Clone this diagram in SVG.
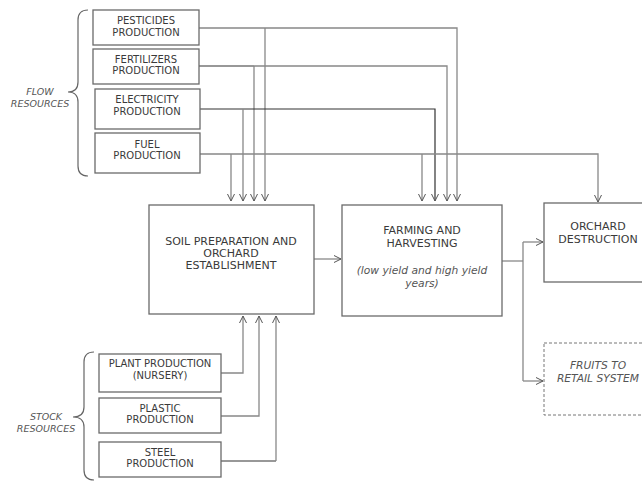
<svg xmlns="http://www.w3.org/2000/svg" width="642" height="481" viewBox="0 0 642 481">
<defs>
<marker id="arr" markerUnits="userSpaceOnUse" markerWidth="10" markerHeight="10" refX="7" refY="4" orient="auto">
<path d="M0,0.5 L7,4 L0,7.5" fill="none" stroke="#555" stroke-width="1"/>
</marker>
<style>
.box{fill:#fff;stroke:#6a6a6a;stroke-width:1.3}
.dash{fill:#fff;stroke:#777;stroke-width:1;stroke-dasharray:3,2}
.t{font-family:"DejaVu Sans",Verdana,sans-serif;font-size:10px;fill:#3a3a3a;text-anchor:middle}
.tb{font-family:"DejaVu Sans",Verdana,sans-serif;font-size:11px;fill:#3a3a3a;text-anchor:middle}
.ti{font-family:"DejaVu Sans",Verdana,sans-serif;font-size:10.7px;fill:#555;text-anchor:middle;font-style:italic}
.tl{font-family:"DejaVu Sans",Verdana,sans-serif;font-size:9.5px;fill:#555;text-anchor:middle;font-style:italic}
.c{fill:none;stroke:#888;stroke-width:1.3}
.cd{fill:none;stroke:#333;stroke-width:1.2}
.br{fill:none;stroke:#666;stroke-width:1.2}
</style>
</defs>
<rect width="642" height="481" fill="#fff"/>

<g id="connectors">
<path class="c" d="M199,28 H457 V201" marker-end="url(#arr)"/>
<path class="c" d="M265,28 V201" marker-end="url(#arr)"/>
<path class="cd" d="M199,66 H254"/>
<path class="c" d="M254,66 H447 V201" marker-end="url(#arr)"/>
<path class="c" d="M254,66 V201" marker-end="url(#arr)"/>
<path class="cd" d="M200,109 H435 V201" marker-end="url(#arr)"/>
<path class="c" d="M243,109 V201" marker-end="url(#arr)"/>
<path class="c" d="M200,154 H598 V202" marker-end="url(#arr)"/>
<path class="c" d="M231,154 V201" marker-end="url(#arr)"/>
<path class="c" d="M422,154 V201" marker-end="url(#arr)"/>
<path class="c" d="M314,259 H341" marker-end="url(#arr)"/>
<path class="c" d="M502,261 H523"/>
<path class="c" d="M523,242 V381"/>
<path class="c" d="M523,242 H543" marker-end="url(#arr)"/>
<path class="c" d="M523,381 H543" marker-end="url(#arr)"/>
<path class="c" d="M221,373 H243 V316" marker-end="url(#arr)"/>
<path class="c" d="M221,416 H259 V316" marker-end="url(#arr)"/>
<path class="cd" d="M221,461 H276"/>
<path class="c" d="M276,461 V316" marker-end="url(#arr)"/>
</g>

<g id="flow-resources">
<path class="br" d="M88,10 Q78,10 78,20 V82 Q78,92 68,92 Q78,92 78,102 V166 Q78,176 88,176"/>
<text class="tl" x="40" y="95">FLOW</text>
<text class="tl" x="40" y="106.5">RESOURCES</text>
</g>

<g id="pesticides">
<rect class="box" x="93" y="10" width="106" height="35"/>
<text class="t" x="146" y="23.5">PESTICIDES</text>
<text class="t" x="146" y="35.5">PRODUCTION</text>
</g>
<g id="fertilizers">
<rect class="box" x="93" y="49" width="106" height="35"/>
<text class="t" x="146" y="62.5">FERTILIZERS</text>
<text class="t" x="146" y="74">PRODUCTION</text>
</g>
<g id="electricity">
<rect class="box" x="95" y="89" width="105" height="40"/>
<text class="t" x="147" y="102.5">ELECTRICITY</text>
<text class="t" x="147" y="114.5">PRODUCTION</text>
</g>
<g id="fuel">
<rect class="box" x="95" y="133" width="105" height="40"/>
<text class="t" x="147" y="147.5">FUEL</text>
<text class="t" x="147" y="158.5">PRODUCTION</text>
</g>

<g id="soil">
<rect class="box" x="149" y="205" width="165" height="109"/>
<text class="tb" x="231" y="245">SOIL PREPARATION AND</text>
<text class="tb" x="231" y="257">ORCHARD</text>
<text class="tb" x="231" y="269">ESTABLISHMENT</text>
</g>

<g id="farming">
<rect class="box" x="342" y="205" width="160" height="111"/>
<text class="tb" x="422" y="234">FARMING AND</text>
<text class="tb" x="422" y="247">HARVESTING</text>
<text class="ti" x="422" y="274">(low yield and high yield</text>
<text class="ti" x="422" y="287">years)</text>
</g>

<g id="orchard-destruction">
<rect class="box" x="544" y="203" width="110" height="79"/>
<text class="tb" x="598" y="230">ORCHARD</text>
<text class="tb" x="598" y="243">DESTRUCTION</text>
</g>

<g id="fruits">
<rect class="dash" x="544" y="343" width="110" height="72"/>
<text class="ti" x="598" y="369">FRUITS TO</text>
<text class="ti" x="598" y="382">RETAIL SYSTEM</text>
</g>

<g id="stock-resources">
<path class="br" d="M94,352 Q84,352 84,362 V407 Q84,417 73,417 Q84,417 84,427 V470 Q84,480 94,480"/>
<text class="tl" x="46" y="420">STOCK</text>
<text class="tl" x="46" y="432">RESOURCES</text>
</g>

<g id="plant">
<rect class="box" x="99" y="354" width="122" height="38"/>
<text class="t" x="160" y="366.5">PLANT PRODUCTION</text>
<text class="t" x="160" y="378.5">(NURSERY)</text>
</g>
<g id="plastic">
<rect class="box" x="99" y="398" width="122" height="35"/>
<text class="t" x="160" y="411.5">PLASTIC</text>
<text class="t" x="160" y="422.5">PRODUCTION</text>
</g>
<g id="steel">
<rect class="box" x="99" y="442" width="122" height="35"/>
<text class="t" x="160" y="455.5">STEEL</text>
<text class="t" x="160" y="466.5">PRODUCTION</text>
</g>
</svg>
